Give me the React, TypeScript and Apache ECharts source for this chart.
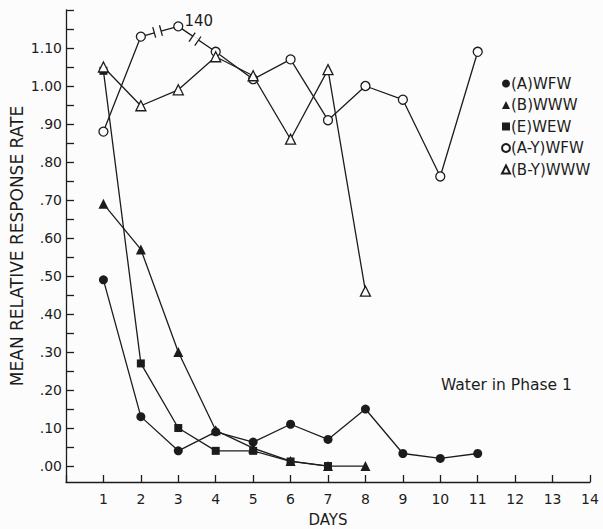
import React, { useEffect, useRef } from "react";
import * as echarts from "echarts";

// ---- data ----
const days = [1, 2, 3, 4, 5, 6, 7, 8, 9, 10, 11];
const aWFW = [0.49, 0.13, 0.04, 0.09, 0.063, 0.11, 0.07, 0.15, 0.033, 0.02, 0.033];
const bWWW = [0.69, 0.57, 0.30, 0.094, 0.047, 0.013, 0.0, 0.0];
const eWEW = [1.04, 0.27, 0.10, 0.04, 0.04, 0.012, 0.0];
// day 3 of (A-Y) is drawn on a broken scale (actual value 140)
const aYWFW = [0.88, 1.13, 1.157, 1.09, 1.018, 1.07, 0.91, 1.0, 0.964, 0.762, 1.09];
const aYNotes = ["", "", "140", "", "", "", "", "", "", "", ""];
const bYWWW = [1.05, 0.948, 0.99, 1.077, 1.027, 0.86, 1.043, 0.46];
// segments of (A-Y) drawn with a scale-break mark (from day index to next)
const breakSegments = [1, 2];

const seriesNames = ["(A)WFW", "(B)WWW", "(E)WEW", "(A-Y)WFW", "(B-Y)WWW"];
const xTickValues = [1, 2, 3, 4, 5, 6, 7, 8, 9, 10, 11, 12, 13, 14];
const yLabelValues = [0, 0.1, 0.2, 0.3, 0.4, 0.5, 0.6, 0.7, 0.8, 0.9, 1.0, 1.1];
const yLabelTexts = [".00", ".10", ".20", ".30", ".40", ".50", ".60", ".70", ".80", ".90", "1.00", "1.10"];
const yTickValues = [0, 0.05, 0.1, 0.15, 0.2, 0.25, 0.3, 0.35, 0.4, 0.45, 0.5, 0.55, 0.6, 0.65, 0.7, 0.75, 0.8, 0.85, 0.9, 0.95, 1.0, 1.05, 1.1, 1.15, 1.2];
const Y_MIN = -0.042;
const Y_MAX = 1.2;

const INK = "#1c1c1c";
const BG = "#fcfcfc";
const FONT = "DejaVu Sans";

function pairs(vals: number[]) {
  return vals.map((v, i) => [days[i], v]);
}

export default function App() {
  const ref = useRef<HTMLDivElement>(null);
  useEffect(() => {
    if (!ref.current) return;
    const chart = echarts.init(ref.current, null, { renderer: "svg" });

    const lineBase = {
      type: "line" as const,
      lineStyle: { color: INK, width: 1.3 },
      emphasis: { disabled: true },
      z: 2,
    };
    const filled = { color: INK, borderColor: INK, borderWidth: 0 };
    const open = { color: BG, borderColor: INK, borderWidth: 1.3 };

    const breakData = breakSegments.map((i) => [days[i], aYWFW[i], days[i + 1], aYWFW[i + 1]]);

    chart.setOption({
      animation: false,
      backgroundColor: BG,
      textStyle: { fontFamily: FONT, color: INK },
      grid: { left: 66, right: 13, top: 10, bottom: 47, outerBoundsMode: "none", containLabel: false },
      xAxis: {
        type: "value",
        min: 0,
        max: 14,
        interval: 1,
        name: "DAYS",
        nameLocation: "middle",
        nameGap: 30,
        nameTextStyle: { fontSize: 15, color: INK, fontFamily: FONT },
        axisLine: { show: true, onZero: false, lineStyle: { color: INK, width: 1.3 } },
        axisTick: { show: true, inside: true, length: 7, lineStyle: { color: INK, width: 1.3 } },
        axisLabel: {
          fontSize: 14,
          color: INK,
          margin: 10,
          fontFamily: FONT,
          formatter: (v: number) => (xTickValues.includes(v) ? String(v) : ""),
        },
        splitLine: { show: false },
      },
      yAxis: {
        type: "value",
        min: Y_MIN,
        max: Y_MAX,
        name: "MEAN RELATIVE RESPONSE RATE",
        nameLocation: "middle",
        nameGap: 41,
        nameMoveOverlap: false,
        nameTextStyle: { fontSize: 17, color: INK, fontFamily: FONT },
        axisLine: { show: true, onZero: false, lineStyle: { color: INK, width: 1.3 } },
        axisTick: {
          show: true,
          inside: true,
          length: 8,
          customValues: yTickValues,
          lineStyle: { color: INK, width: 1.3 },
        },
        axisLabel: {
          fontSize: 14,
          color: INK,
          margin: 4,
          fontFamily: FONT,
          customValues: yLabelValues,
          formatter: (v: number) => {
            const i = yLabelValues.findIndex((t) => Math.abs(t - v) < 1e-6);
            return i >= 0 ? yLabelTexts[i] : "";
          },
        },
        splitLine: { show: false },
      },
      legend: {
        orient: "vertical",
        left: 496,
        top: 71,
        itemGap: 6.5,
        itemWidth: 8,
        itemHeight: 8,
        textStyle: { fontSize: 15, color: INK, fontFamily: FONT, padding: [0, 0, 0, -4] },
        data: [
          { name: seriesNames[0], icon: "circle" },
          { name: seriesNames[1], icon: "triangle" },
          { name: seriesNames[2], icon: "rect" },
          { name: seriesNames[3], icon: "circle" },
          { name: seriesNames[4], icon: "triangle" },
        ],
      },
      graphic: [
        {
          type: "text",
          left: 441,
          top: 377,
          style: { text: "Water in Phase 1", fontSize: 15.5, fill: INK, fontFamily: FONT },
        },
      ],
      series: [
        { ...lineBase, name: seriesNames[0], data: pairs(aWFW), symbol: "circle", symbolSize: 9, itemStyle: filled },
        { ...lineBase, name: seriesNames[1], data: pairs(bWWW), symbol: "triangle", symbolSize: 10, itemStyle: filled },
        { ...lineBase, name: seriesNames[2], data: pairs(eWEW), symbol: "rect", symbolSize: 8, itemStyle: filled },
        {
          ...lineBase,
          name: seriesNames[3],
          data: aYWFW.map((v, i) =>
            aYNotes[i]
              ? {
                  value: [days[i], v],
                  label: {
                    show: true,
                    formatter: aYNotes[i],
                    position: "right",
                    distance: 1,
                    offset: [0, -5],
                    fontSize: 15,
                    color: INK,
                    fontFamily: FONT,
                  },
                }
              : [days[i], v]
          ),
          symbol: "circle",
          symbolSize: 9,
          itemStyle: open,
          z: 3,
        },
        { ...lineBase, name: seriesNames[4], data: pairs(bYWWW), symbol: "triangle", symbolSize: 10, itemStyle: open, z: 3 },
        {
          type: "custom",
          name: "breaks",
          silent: true,
          z: 4,
          data: breakData,
          encode: { x: [0, 2], y: [1, 3] },
          renderItem: (params: any, api: any) => {
            const p1 = api.coord([api.value(0), api.value(1)]);
            const p2 = api.coord([api.value(2), api.value(3)]);
            const mx = (p1[0] + p2[0]) / 2 - 2;
            const my = (p1[1] + p2[1]) / 2;
            const dx = p2[0] - p1[0];
            const dy = p2[1] - p1[1];
            const len = Math.sqrt(dx * dx + dy * dy);
            const ux = dx / len, uy = dy / len, px = -uy, py = ux;
            const g = 3.5, h = 5.5;
            const bar = (s: number) => ({
              type: "line",
              shape: {
                x1: mx + ux * g * s - px * h,
                y1: my + uy * g * s - py * h,
                x2: mx + ux * g * s + px * h,
                y2: my + uy * g * s + py * h,
              },
              style: { stroke: INK, lineWidth: 1.3 },
            });
            return {
              type: "group",
              children: [
                {
                  type: "line",
                  shape: { x1: mx - ux * g, y1: my - uy * g, x2: mx + ux * g, y2: my + uy * g },
                  style: { stroke: BG, lineWidth: 4 },
                },
                bar(-1),
                bar(1),
              ],
            };
          },
        },
      ],
    });
    return () => chart.dispose();
  }, []);
  return <div ref={ref} style={{ position: "fixed", left: 0, top: 0, width: 603, height: 529 }} />;
}
